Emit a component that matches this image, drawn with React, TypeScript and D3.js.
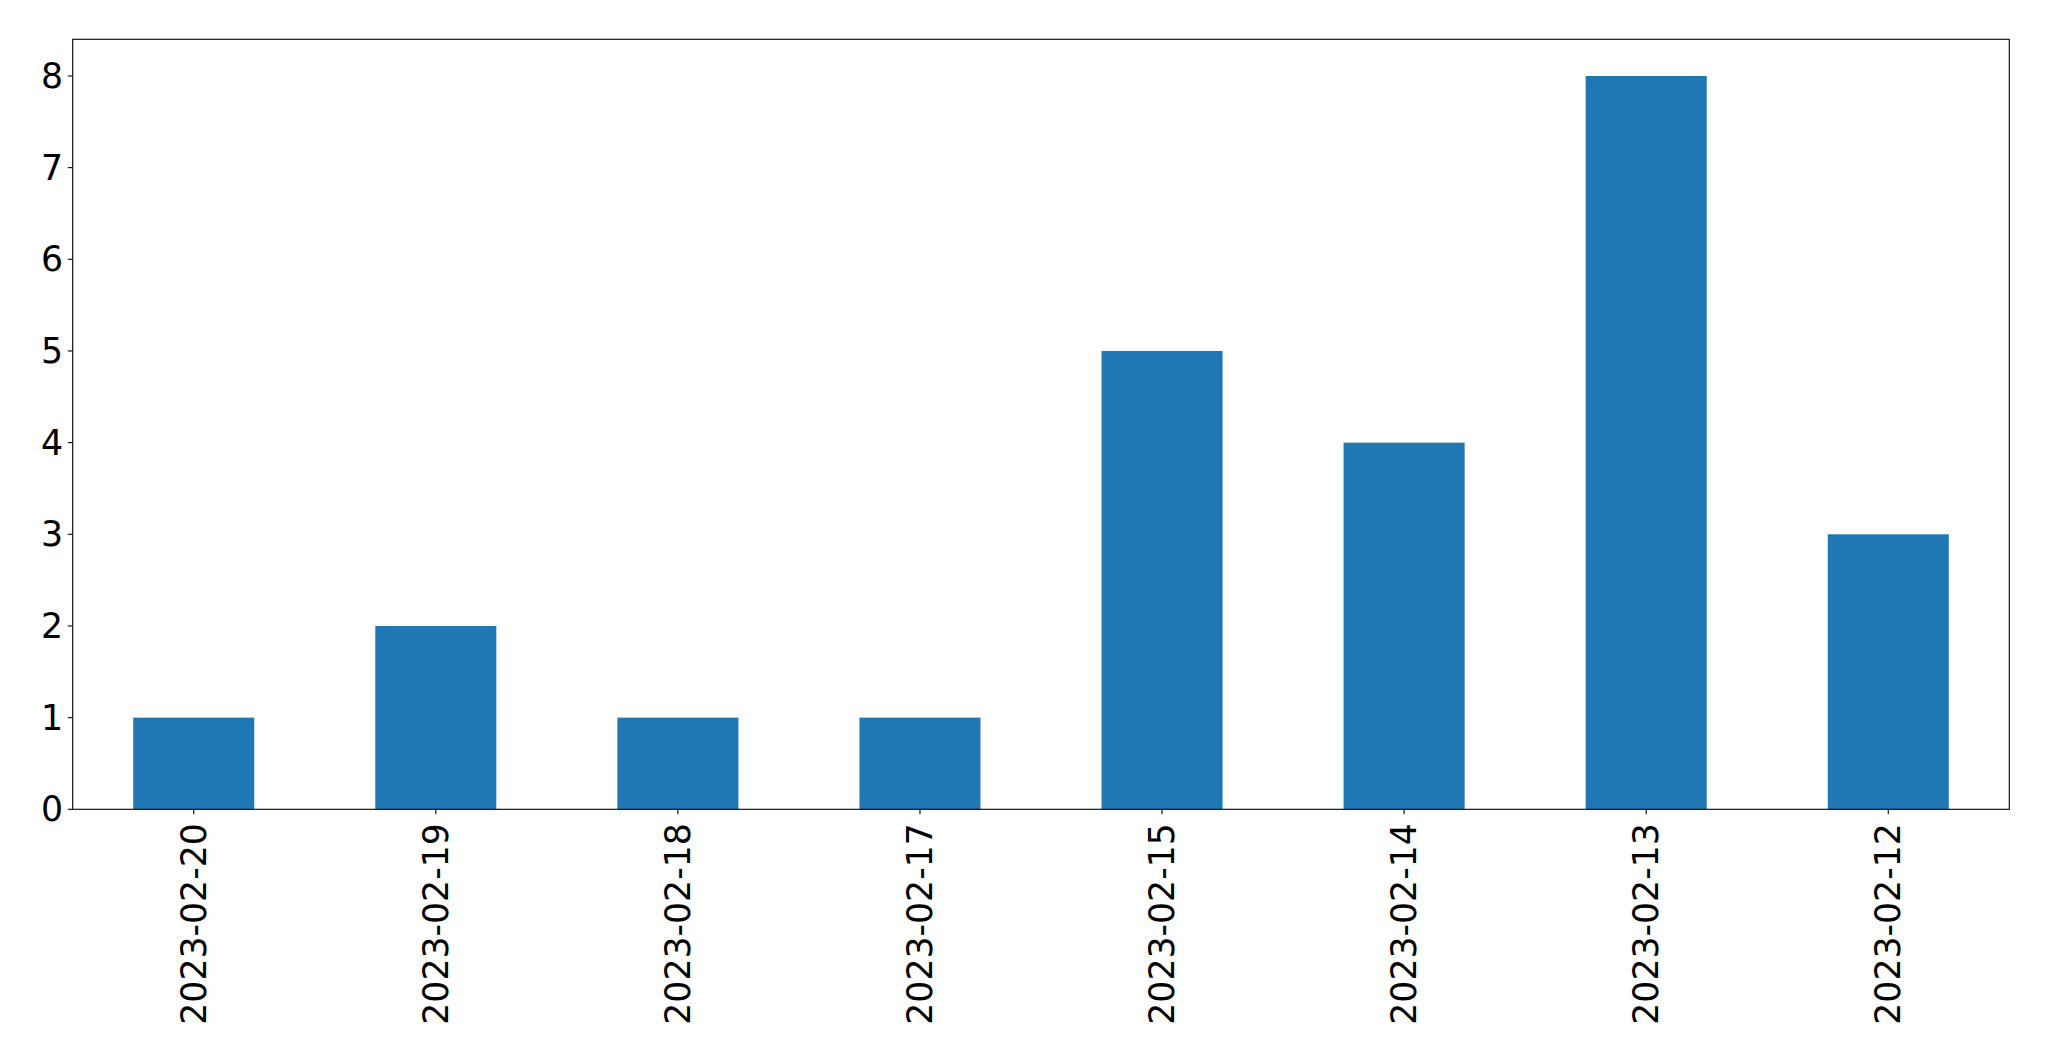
import React from "react";
import * as d3 from "d3";

const categories = ["2023-02-20", "2023-02-19", "2023-02-18", "2023-02-17", "2023-02-15", "2023-02-14", "2023-02-13", "2023-02-12"];
const values = [1, 2, 1, 1, 5, 4, 8, 3];
const yTicks = [0, 1, 2, 3, 4, 5, 6, 7, 8];

const W = 2049;
const H = 1061;
const left = 72.7;
const right = 2009.3;
const top = 39.3;
const bottom = 809.3;
const FONT = "'DejaVu Sans', sans-serif";
const FS = 34.7;
const TICK = 4.86;
const PAD = 4.86;
const XPAD = 9;

export default function App() {
  const x = d3.scaleLinear().domain([-0.5, categories.length - 0.5]).range([left, right]);
  const y = d3.scaleLinear().domain([0, 8.4]).range([bottom, top]);
  const bw = x(0.25) - x(-0.25);
  return (
    <svg width={W} height={H} style={{ position: "absolute", left: 0, top: 0, background: "#fff" }}>
      <rect x={0} y={0} width={W} height={H} fill="#fff" />
      {values.map((v, i) => (
        <rect key={i} x={x(i) - bw / 2} y={y(v)} width={bw} height={y(0) - y(v)} fill="#1f77b4" />
      ))}
      <rect x={left} y={top} width={right - left} height={bottom - top} fill="none" stroke="#000" strokeWidth={1.1} />
      {yTicks.map((t) => (
        <g key={t}>
          <line x1={left - TICK} x2={left} y1={y(t)} y2={y(t)} stroke="#000" strokeWidth={1.1} />
          <text x={left - TICK - PAD} y={y(t)} dy="0.35em" textAnchor="end" fontFamily={FONT} fontSize={FS} fill="#000">{t}</text>
        </g>
      ))}
      {categories.map((c, i) => (
        <g key={c}>
          <line x1={x(i)} x2={x(i)} y1={bottom} y2={bottom + TICK} stroke="#000" strokeWidth={1.1} />
          <text
            transform={`translate(${x(i)},${bottom + TICK + XPAD}) rotate(-90)`}
            dy="0.35em"
            textAnchor="end"
            fontFamily={FONT}
            fontSize={FS}
            fill="#000"
          >{c}</text>
        </g>
      ))}
    </svg>
  );
}
